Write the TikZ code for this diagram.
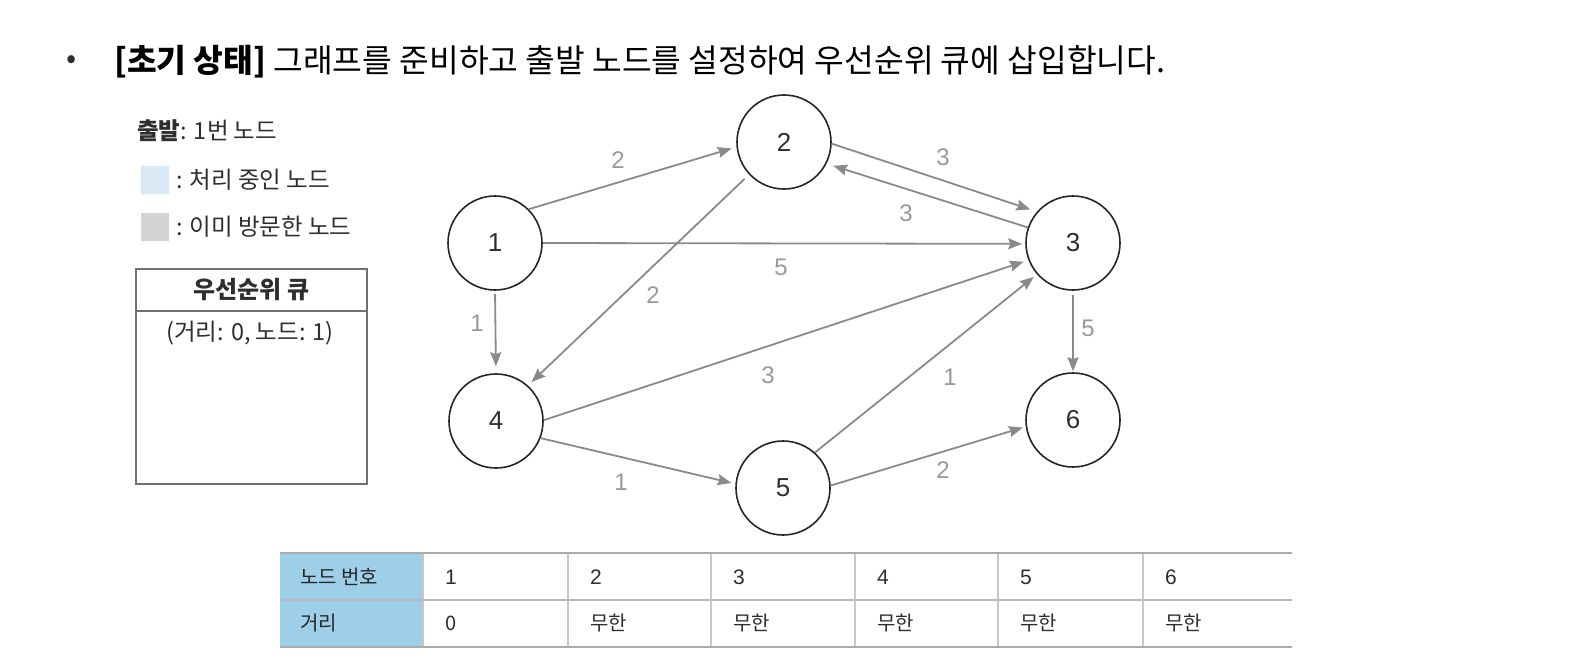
\documentclass[tikz,border=0pt]{standalone}
\usepackage{fontspec}
\setmainfont{Noto Sans CJK KR}
\newfontfamily\hv{Liberation Sans}
\usetikzlibrary{arrows.meta}
\definecolor{arrowgray}{HTML}{8A8A8A}
\definecolor{labgray}{HTML}{999999}
\definecolor{procblue}{HTML}{D8E9F5}
\definecolor{visitgray}{HTML}{D4D4D4}
\definecolor{headblue}{HTML}{9DD0E8}
\definecolor{textdark}{HTML}{2E2E2E}
\definecolor{boxgray}{HTML}{707070}
\begin{document}
\begin{tikzpicture}[x=1pt,y=-1pt,
  vtx/.style={circle,draw=black!85,line width=1.6pt,minimum size=94pt,inner sep=0pt,
    font=\hv\fontsize{26}{26}\selectfont,text=textdark},
  edgearrow/.style={draw=arrowgray,line width=1.8pt,
    -{Stealth[length=14pt,width=11pt,inset=2pt]}},
  wlab/.style={text=labgray,font=\hv\fontsize{24}{24}\selectfont,inner sep=0pt},
  legtext/.style={anchor=west,inner sep=0pt,text=textdark,font=\fontsize{23.5}{23.5}\selectfont},
  tabtext/.style={anchor=west,inner sep=0pt,text=textdark,font=\fontsize{20}{20}\selectfont},
  ]
\useasboundingbox (0,0) rectangle (1576,662);

% title
\node[inner sep=0pt,text=textdark,font=\fontsize{30}{30}\selectfont] (bullet) at (72,62) {•};
\node[anchor=west,inner sep=0pt,text=black,font=\fontsize{32.3}{32.3}\selectfont] (title) at (114,62)
  {\textbf{[초기 상태]} 그래프를 준비하고 출발 노드를 설정하여 우선순위 큐에 삽입합니다.};

% legend
\node[legtext] (startlbl) at (137,131) {\textbf{출발}: 1번 노드};
\node[fill=procblue,minimum size=28pt,inner sep=0pt] (sqblue) at (154.5,180) {};
\node[legtext] (lblue) at (176,180) {: 처리 중인 노드};
\node[fill=visitgray,minimum size=28pt,inner sep=0pt] (sqgray) at (154.5,226.5) {};
\node[legtext] (lgray) at (176,227) {: 이미 방문한 노드};

% priority queue box
\node[draw=boxgray,line width=1.8pt,minimum width=231pt,minimum height=42pt,anchor=north west,inner sep=0pt]
  (qhead) at (135,268) {};
\node[draw=boxgray,line width=1.8pt,minimum width=231pt,minimum height=173pt,anchor=north west,inner sep=0pt]
  (qbody) at (135,310) {};
\node[inner sep=0pt,text=textdark,font=\bfseries\fontsize{24}{24}\selectfont] (qtitle) at (qhead.center) {우선순위 큐};
\node[inner sep=0pt,text=textdark,font=\fontsize{23.5}{23.5}\selectfont] (qitem) at (250,333) {(거리: 0, 노드: 1)};

% graph nodes
\node[vtx] (n1) at (495,243) {1};
\node[vtx] (n2) at (784,142) {2};
\node[vtx] (n3) at (1073,243) {3};
\node[vtx] (n4) at (496,421) {4};
\node[vtx] (n5) at (783,488) {5};
\node[vtx] (n6) at (1073,420) {6};

% edges
\draw[edgearrow,shorten >=5pt] (n1.45) -- (n2.186);
\draw[edgearrow,shorten >=3pt] (n1.0) -- (n3.181);
\draw[edgearrow,shorten <=3pt,shorten >=7pt] (n1.-90) -- (n4.90);
\draw[edgearrow,shorten >=7pt] (n2.-2) -- (n3.139.5);
\draw[edgearrow,shorten >=7pt] (n3.161.6) -- (n2.-27.5);
\draw[edgearrow,shorten <=6pt,shorten >=5pt] (n2.223.5) -- (n4.48.9);
\draw[edgearrow,shorten <=4pt,shorten >=1pt] (n3.-90) -- (n6.90);
\draw[edgearrow,shorten >=5pt] (n4.1) -- (n3.201);
\draw[edgearrow,shorten >=4pt] (n4.-21.4) -- (n5.175.5);
\draw[edgearrow,shorten >=4pt] (n5.48) -- (n3.221.8);
\draw[edgearrow,shorten >=3pt] (n5.3.4) -- (n6.188);

% edge weights
\node[wlab] (w12) at (618,160) {2};
\node[wlab] (w23) at (943,157) {3};
\node[wlab] (w32) at (906,213) {3};
\node[wlab] (w13) at (781,267) {5};
\node[wlab] (w24) at (653,295) {2};
\node[wlab] (w14) at (477,323) {1};
\node[wlab] (w36) at (1088,328) {5};
\node[wlab] (w43) at (768,375) {3};
\node[wlab] (w53) at (950,377) {1};
\node[wlab] (w45) at (621,482) {1};
\node[wlab] (w56) at (943,470) {2};

% distance table
\fill[headblue] (280,553) rectangle (423,647);
\foreach \x in {423,568,711,855,998,1143}
  \draw[draw=black!22,line width=1.2pt] (\x,553) -- (\x,647);
\draw[draw=black!33,line width=2.6pt] (280,553) -- (1292,553);
\draw[draw=black!27,line width=2pt] (280,600) -- (1292,600);
\draw[draw=black!33,line width=2.6pt] (280,647) -- (1292,647);
\node[tabtext,text=black!85] (th1) at (300,577) {노드 번호};
\node[tabtext,text=black!85] (th2) at (300,623) {거리};
\foreach \x/\n/\d in {423/1/0,568/2/무한,711/3/무한,855/4/무한,998/5/무한,1143/6/무한}{
  \node[tabtext,font=\hv\fontsize{21}{21}\selectfont] (tn\n) at (\x+22,577) {\n};
  \node[tabtext] (td\n) at (\x+22,623) {\d};
}
\end{tikzpicture}
\end{document}
